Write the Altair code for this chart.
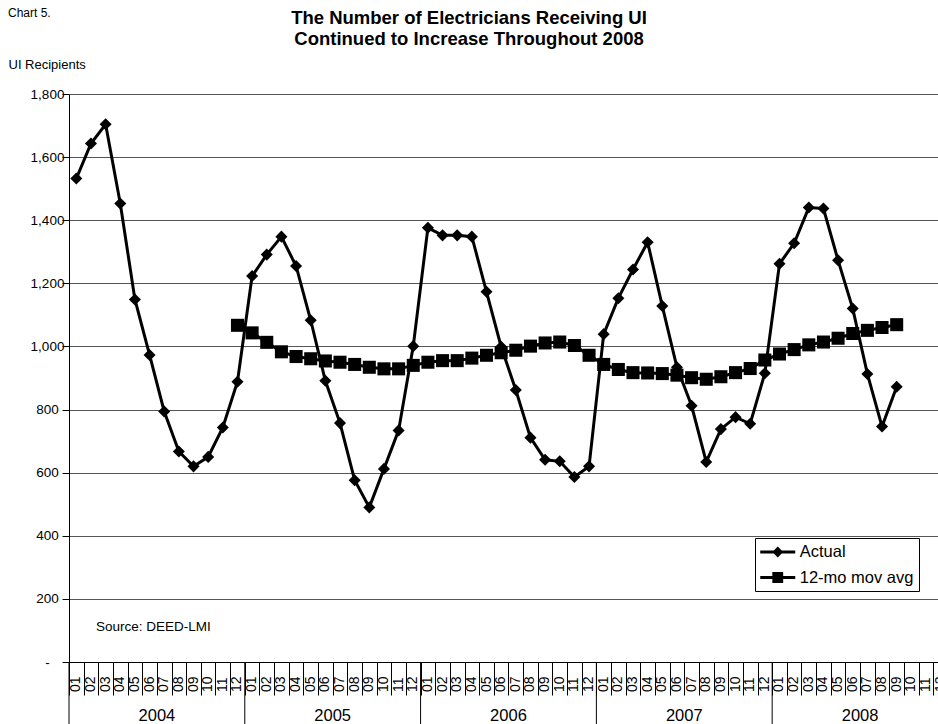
import altair as alt
import pandas as pd

FONT = "Liberation Sans"

years = ["2004", "2005", "2006", "2007", "2008"]
month_labels = ["01", "02", "03", "04", "05", "06", "07", "08", "09", "10", "11", "12"]

actual = [
    1532, 1643, 1704, 1453, 1149, 973, 794, 667, 620, 650, 743, 888,
    1223, 1291, 1348, 1255, 1083, 891, 757, 576, 490, 612, 734, 1001,
    1376, 1352, 1352, 1348, 1173, 999, 862, 711, 641, 636, 586, 620,
    1039, 1153, 1244, 1330, 1128, 934, 812, 634, 738, 776, 755, 915,
    1262, 1327, 1440, 1437, 1273, 1120, 913, 746, 872,
]
mov_avg = [
    1067,
    1043, 1013, 983, 968, 961, 954, 950, 943, 934, 929, 929, 940,
    950, 955, 955, 963, 972, 980, 988, 1001, 1011, 1014, 1003, 972,
    943, 927, 917, 916, 914, 909, 901, 896, 904, 917, 930, 957,
    976, 990, 1005, 1014, 1026, 1041, 1051, 1060, 1069,
]
avg_start = 11  # moving average begins 2004-12
series_names = ["Actual", "12-mo mov avg"]
y_ticks = [0, 200, 400, 600, 800, 1000, 1200, 1400, 1600, 1800]
title_text = "The Number of Electricians Receiving UI\nContinued to Increase Throughout 2008"

rows = []
for i, v in enumerate(actual):
    rows.append({"t": i + 0.5, "value": v, "series": series_names[0]})
for i, v in enumerate(mov_avg):
    rows.append({"t": avg_start + i + 0.5, "value": v, "series": series_names[1]})
df = pd.DataFrame(rows)

n_months = len(years) * 12
months_df = pd.DataFrame({
    "t": [i + 0.5 for i in range(n_months)],
    "label": [month_labels[i % 12] for i in range(n_months)],
})
years_df = pd.DataFrame({
    "year": years,
    "mid": [12 * k + 6 for k in range(len(years))],
    "start": [12 * k for k in range(len(years))],
})

W, H = 869, 568
x_scale = alt.Scale(domain=[0, 59.32], nice=False, zero=False)
y_scale = alt.Scale(domain=[0, 1800], nice=False, zero=True)

x_axis = alt.Axis(values=list(range(0, n_months + 1)), labels=False, ticks=True,
                  tickSize=33, tickColor="black", tickWidth=1, domainColor="black",
                  grid=False, title=None)
y_axis = alt.Axis(values=y_ticks, grid=True, gridColor="#555555", gridWidth=1,
                  tickSize=7, tickColor="black", domainColor="black",
                  labelPadding=15, labelAlign="center", labelFontSize=13.5, labelFont=FONT,
                  labelColor="black",
                  labelExpr="datum.value == 0 ? '-' : format(datum.value, ',')",
                  title="UI Recipients", titleAngle=0, titleAlign="left", titleBaseline="middle",
                  titleX=-61, titleY=-30, titleFontSize=13, titleFontWeight="normal",
                  titleFont=FONT, titleColor="black")


def X(field):
    return alt.X(f"{field}:Q", scale=x_scale, axis=x_axis)


Y = alt.Y("value:Q", scale=y_scale, axis=y_axis)

lines = alt.Chart(df).mark_line(color="black", strokeWidth=3).encode(
    x=X("t"), y=Y, detail="series:N"
)

points = alt.Chart(df).mark_point(filled=True, color="black", opacity=1).encode(
    x=X("t"), y=Y,
    shape=alt.Shape("series:N", scale=alt.Scale(domain=series_names, range=["diamond", "square"]), legend=None),
    size=alt.Size("series:N", scale=alt.Scale(domain=series_names, range=[145, 170]), legend=None),
)

# legend symbols: a 3px bar (the line) plus the marker, all filled
diamond_path = "M-2,-0.17L2,-0.17L2,0.17L-2,0.17ZM0,-0.62L0.62,0L0,0.62L-0.62,0Z"
square_path = "M-2,-0.17L2,-0.17L2,0.17L-2,0.17ZM-0.62,-0.62L0.62,-0.62L0.62,0.62L-0.62,0.62Z"

legend_layer = alt.Chart(df).transform_filter("false").mark_point(
    filled=True, color="black"
).encode(
    x=X("t"), y=Y,
    shape=alt.Shape("series:N", scale=alt.Scale(domain=series_names, range=[diamond_path, square_path]),
                    legend=alt.Legend(title=None, orient="none", legendX=686, legendY=444,
                                      strokeColor="black", fillColor="white", padding=5,
                                      labelFontSize=16.5, labelFont=FONT, labelColor="black",
                                      symbolSize=306, symbolOffset=8.75, labelOffset=13,
                                      rowPadding=7.5, symbolFillColor="black",
                                      symbolStrokeWidth=0, symbolOpacity=1, cornerRadius=0)),
)

month_text = alt.Chart(months_df).mark_text(
    angle=270, align="left", baseline="middle", fontSize=14, font=FONT, color="black"
).encode(x=X("t"), y=alt.value(H + 30), text="label:N")

year_rules = alt.Chart(years_df).mark_rule(color="black", strokeWidth=1).encode(
    x=X("start"), y=alt.value(H), y2=alt.value(H + 62)
)

year_text = alt.Chart(years_df).mark_text(
    baseline="alphabetic", fontSize=16.5, font=FONT, color="black"
).encode(x=X("mid"), y=alt.value(H + 59), text="year:N")

source_df = pd.DataFrame({"txt": ["Source: DEED-LMI"]})
source_text = alt.Chart(source_df).mark_text(
    align="left", baseline="middle", fontSize=13.5, font=FONT, color="black"
).encode(x=alt.value(27), y=alt.value(533), text="txt:N")

chart_no_df = pd.DataFrame({"txt": ["Chart 5."]})
chart_no_text = alt.Chart(chart_no_df).mark_text(
    align="left", baseline="middle", fontSize=12, font=FONT, color="black"
).encode(x=alt.value(-61), y=alt.value(-81), text="txt:N")

title_df = pd.DataFrame({"txt": [title_text]})
title_mark = alt.Chart(title_df).mark_text(
    align="center", baseline="top", fontSize=18.5, fontWeight="bold", font=FONT,
    color="black", lineBreak="\n", lineHeight=21
).encode(x=alt.value(400), y=alt.value(-85), text="txt:N")

chart = alt.layer(
    year_rules, lines, points, legend_layer, month_text, year_text, source_text,
    chart_no_text, title_mark
).resolve_scale(shape="independent", size="independent").properties(
    width=W, height=H,
    autosize=alt.AutoSizeParams(type="none"),
    padding={"left": 69, "top": 94, "right": 0, "bottom": 62},
).configure_view(stroke=None).configure(background="white")

chart.save("out.html", embed_options={"renderer": "svg", "actions": False})
